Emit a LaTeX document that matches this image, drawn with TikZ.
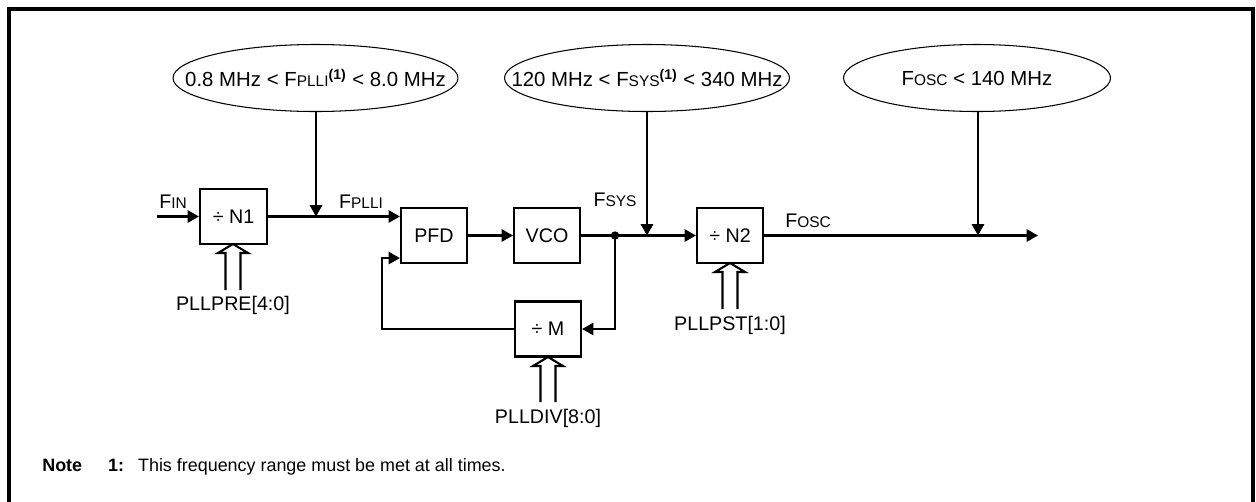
\documentclass[tikz,border=0pt]{standalone}
\usepackage{fontspec}
\setmainfont{Liberation Sans}
\usetikzlibrary{shapes.geometric,arrows.meta,calc}
\newcommand\smc[1]{{\fontsize{8.8}{10}\selectfont #1}}
\newcommand\supone{\textsuperscript{\fontsize{8}{9}\selectfont\bfseries(1)}}
\begin{document}
\begin{tikzpicture}[x=0.02cm,y=-0.02cm,
  font=\fontsize{11.2}{13}\selectfont,
  blk/.style={draw,line width=1.2pt,minimum width=66*0.02cm,minimum height=55*0.02cm,inner sep=0pt},
  ell/.style={draw,ellipse,line width=0.6pt,minimum width=285*0.02cm,minimum height=67*0.02cm,inner sep=0pt,font=\fontsize{11.6}{13}\selectfont},
  wire/.style={line width=1.2pt},
  arr/.style={wire,-{Triangle[length=6.5pt,width=7pt]}},
  lbl/.style={inner sep=0pt}]
\useasboundingbox (0,0) rectangle (1256,501);
\draw[line width=1.8pt] (9,600) -- (9,9) -- (1253,9) -- (1253,600);
% ellipses
\node[ell] (e1) at (315.5,78) {\makebox[0pt]{0.8 MHz < F\smc{PLLI}\supone{} < 8.0 MHz}};
\node[ell] (e2) at (647,78) {\makebox[0pt]{120 MHz < F\smc{SYS}\supone{} < 340 MHz}};
\node[ell,minimum width=267*0.02cm] (e3) at (977,78) {\makebox[0pt]{F\smc{OSC} < 140 MHz}};
% blocks
\node[blk,minimum width=67*0.02cm] (n1) at (233.5,216.5) {÷ N1};
\node[blk] (pfd) at (434,235.5) {PFD};
\node[blk] (vco) at (547,235.5) {VCO};
\node[blk] (m) at (548,329) {÷ M};
\node[blk] (n2) at (730,235.5) {÷ N2};
% coordinates
\coordinate (fin) at (157,216.5);
\coordinate (j1) at (316,216.5);
\coordinate (dot) at (615,235.5);
\coordinate (j2) at (647,235.5);
\coordinate (j3) at (978,235.5);
\coordinate (out) at (1038,235.5);
\coordinate (fb) at (382,329);
% wires
\draw[arr] (fin) -- (n1.west);
\draw[wire] (n1.east) -- (j1);
\draw[arr] (j1) -- (pfd.west |- j1);
\draw[arr] (e1.south -| j1) -- (j1);
\draw[arr] (pfd) -- (vco);
\draw[wire] (vco.east) -- (dot);
\fill (dot) circle (4.2);
\draw[wire] (dot) -- (j2);
\draw[arr] (j2) -- (n2.west);
\draw[arr] (e2.south -| j2) -- (j2);
\draw[arr] (dot) |- (m.east);
\draw[arr] (m.west) -- (fb) |- ($(pfd.south west)+(0,-6)$);
\draw[wire] (n2.east) -- (j3);
\draw[arr] (j3) -- (out);
\draw[arr] (e3.south -| j3) -- (j3);
% labels
\node[lbl] (lfin) at (173,202) {F\smc{IN}};
\node[lbl] (lpll) at (361,202) {F\smc{PLLI}};
\node[lbl] (lsys) at (615,200) {F\smc{SYS}};
\node[lbl] (losc) at (808,221) {F\smc{OSC}};
% double arrows
\foreach \cx/\top/\bot in {233/244/290, 548/357/402, 730/263/309}{
  \draw[line width=1.2pt,line join=miter]
    (\cx-7.5,\bot) -- (\cx-7.5,\top+9) -- (\cx-15,\top+9) -- (\cx,\top) -- (\cx+15,\top+9) -- (\cx+7.5,\top+9) -- (\cx+7.5,\bot);
}
\node[lbl] (lpre) at (233,305) {PLLPRE[4:0]};
\node[lbl] (ldiv) at (548,418) {PLLDIV[8:0]};
\node[lbl] (lpst) at (730,325) {PLLPST[1:0]};
% note
\node[lbl,anchor=west,font=\fontsize{10.2}{12}\selectfont] (note) at (42,467) {\makebox[37.5pt][l]{\textbf{Note}}\makebox[17pt][l]{\textbf{1:}}This frequency range must be met at all times.};
\end{tikzpicture}
\end{document}
